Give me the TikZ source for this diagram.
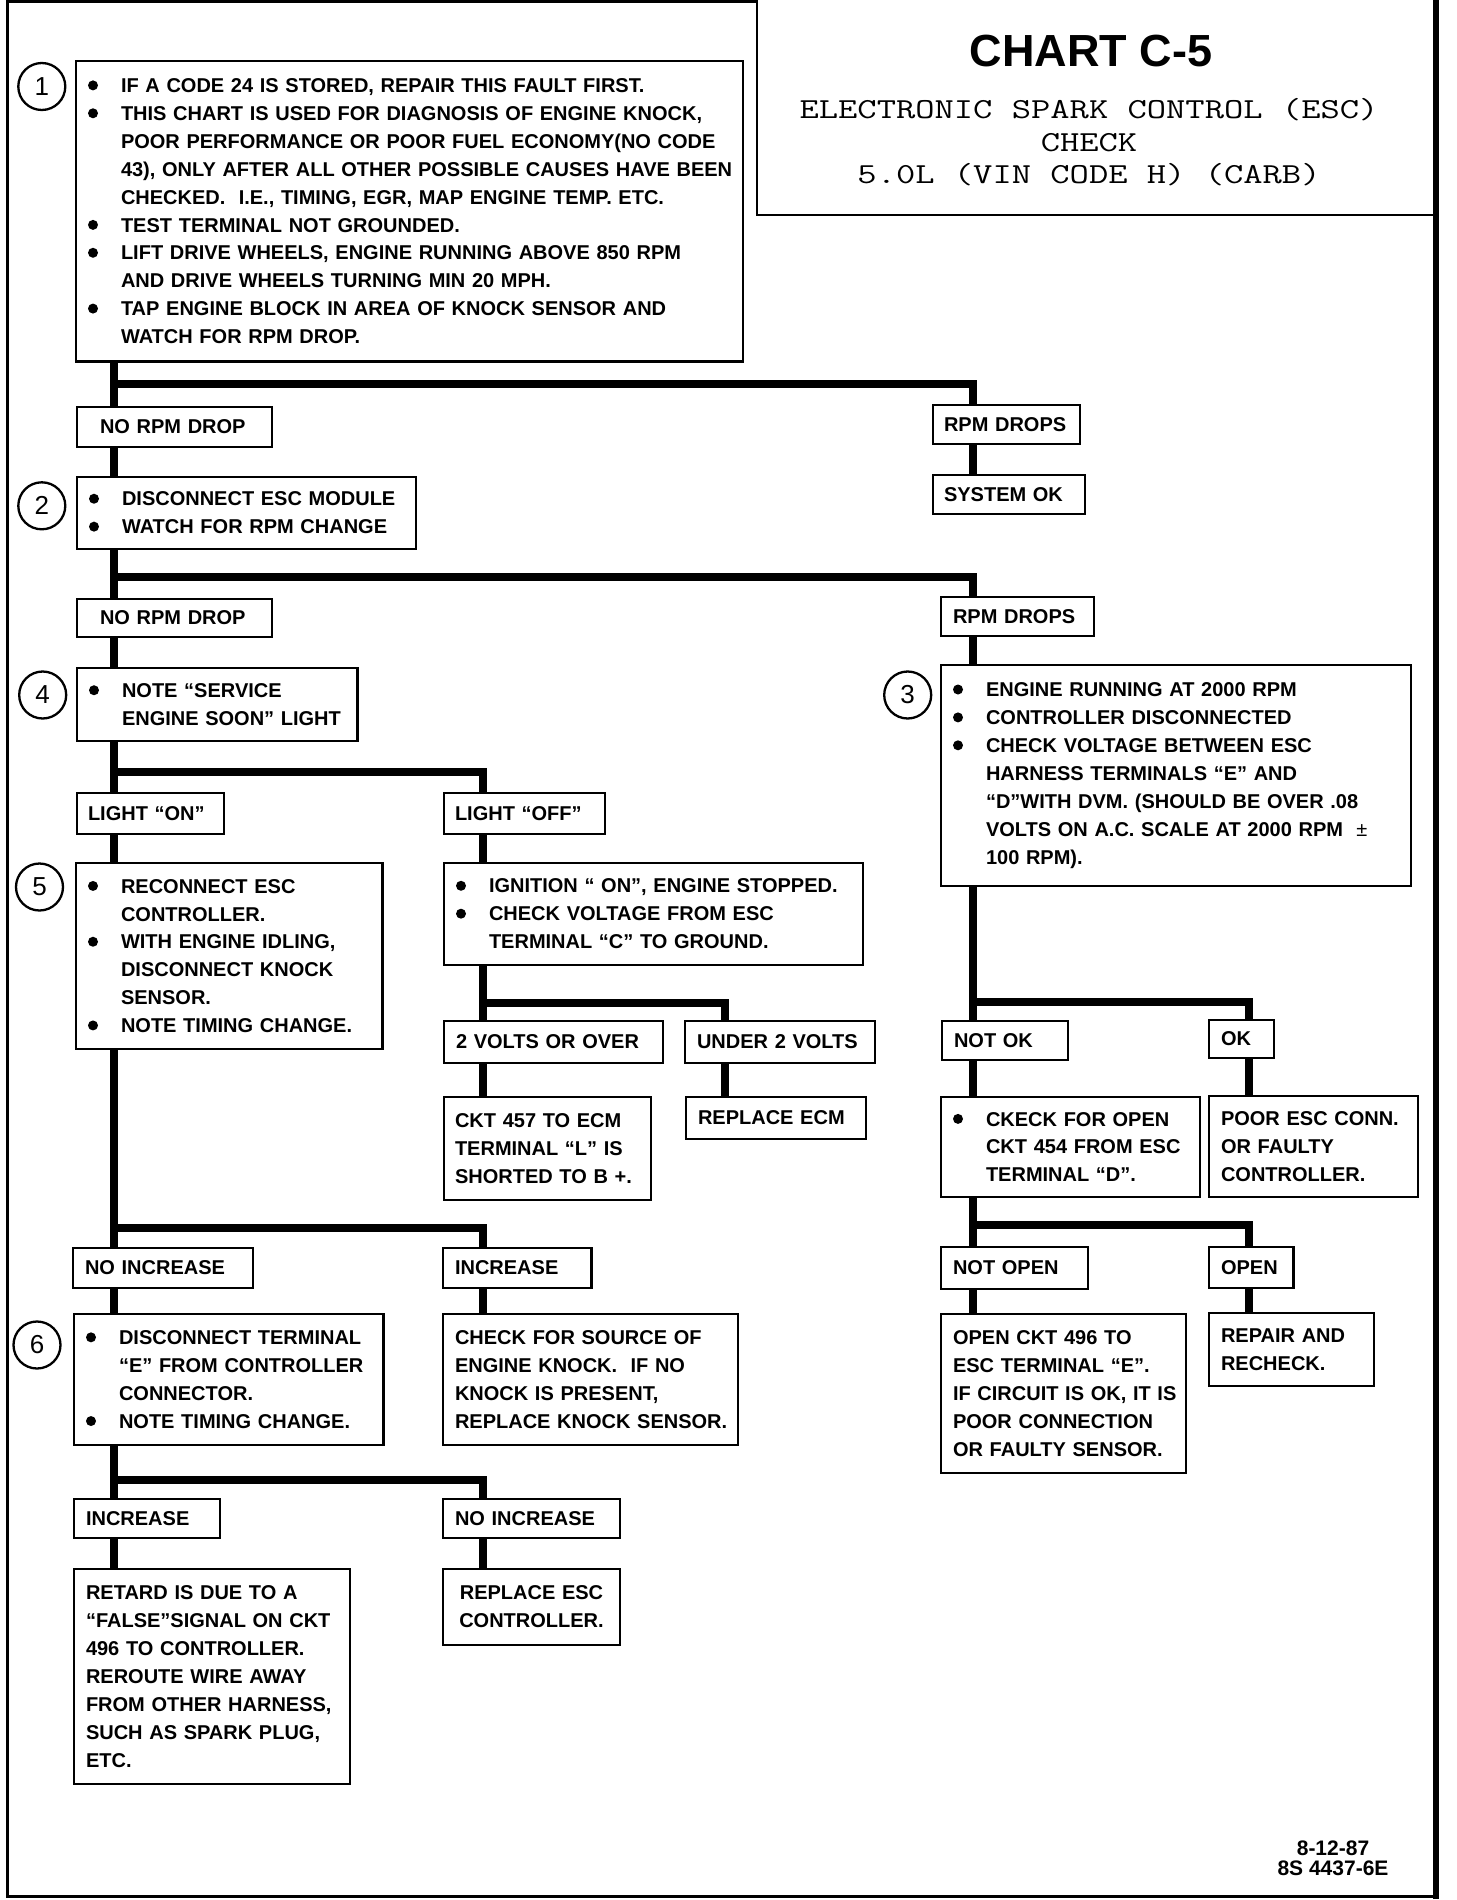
\documentclass[tikz,border=0pt]{standalone}
\usepackage{fontspec}
\usepackage{graphicx}
\setmainfont{Liberation Sans}
\frenchspacing
\newlength\bw \setlength\bw{33pt}
\newcommand\bdot{\tikz[baseline=0pt]\fill[black] (5pt,7.2pt) circle[radius=5pt];}
\newcommand\bul[1]{\makebox[\bw][l]{\bdot}\mbox{#1}}
\newcommand\cont[1]{\hspace*{\bw}\mbox{#1}}
\newcommand\pln[1]{\mbox{#1}}
\tikzset{
  boxst/.style={draw, line width=2.5pt, fill=white, inner ysep=0pt, outer sep=0pt, align=left,
    font=\bfseries\fontsize{20}{27.9}\selectfont},
  conn/.style={line width=8pt, line join=miter},
  circ/.style={circle, draw, line width=2.3pt, minimum size=47pt, inner sep=0pt,
    font=\mdseries\fontsize{26}{26}\selectfont},
  subst/.style={anchor=base, font=\ttfamily\fontsize{29}{29}\selectfont},
}
\newcommand\mybox[8][]{%
  \pgfmathsetmacro\bxw{#5-#3}%
  \pgfmathsetmacro\bxh{#6-#4}%
  \pgfmathsetmacro\bxt{#5-#3-2*#7}%
  \node[boxst, anchor=north west, minimum width=\bxw pt, minimum height=\bxh pt,
        inner xsep=#7pt, text width=\bxt pt, #1] (#2) at (#3,#4) {#8};}
\begin{document}
\begin{tikzpicture}[x=1pt, y=-1pt]
\useasboundingbox (0,0) rectangle (1456,1900);
% frame
\draw[line width=3pt] (7.5,0) -- (7.5,1896) -- (1436,1896);
\draw[line width=6pt] (1436,0) -- (1436,1899);
\draw[line width=3pt] (7.5,1.5) -- (757,1.5);
\draw[line width=2.5pt] (757,0) -- (757,215) -- (1436,215);
% title
\node[anchor=base, font=\bfseries\fontsize{45}{45}\selectfont] (title) at (1091,67) {CHART C-5};
\node[subst] (sub1) at (1089,118.5) {\scalebox{1.292}[1]{ELECTRONIC SPARK CONTROL (ESC)}};
\node[subst] (sub2) at (1089,151) {\scalebox{1.292}[1]{CHECK}};
\node[subst] (sub3) at (1089,183.5) {\scalebox{1.292}[1]{5.0L (VIN CODE H) (CARB)}};
% footer
\node[anchor=base, font=\bfseries\fontsize{21}{21}\selectfont] (date) at (1333,1855) {8-12-87};
\node[anchor=base, font=\bfseries\fontsize{21}{21}\selectfont] (code) at (1333,1875) {8S 4437-6E};
% trunks
\coordinate (tL) at (114,0);
\coordinate (tM) at (483,0);
\coordinate (tU) at (724.5,0);
\coordinate (tR) at (972.5,0);
\coordinate (tRR) at (1248.5,0);
% boxes
\mybox{b1}{76}{61}{743}{361.5}{12}{%
\bul{IF A CODE 24 IS STORED, REPAIR THIS FAULT FIRST.}\\
\bul{THIS CHART IS USED FOR DIAGNOSIS OF ENGINE KNOCK,}\\
\cont{POOR PERFORMANCE OR POOR FUEL ECONOMY(NO CODE}\\
\cont{43), ONLY AFTER ALL OTHER POSSIBLE CAUSES HAVE BEEN}\\
\cont{CHECKED.\ \ I.E., TIMING, EGR, MAP ENGINE TEMP. ETC.}\\
\bul{TEST TERMINAL NOT GROUNDED.}\\
\bul{LIFT DRIVE WHEELS, ENGINE RUNNING ABOVE 850 RPM}\\
\cont{AND DRIVE WHEELS TURNING MIN 20 MPH.}\\
\bul{TAP ENGINE BLOCK IN AREA OF KNOCK SENSOR AND}\\
\cont{WATCH FOR RPM DROP.}}
\mybox{nrdA}{77}{407}{272}{447}{23}{\pln{NO RPM DROP}}
\mybox{rdA}{933}{405}{1080}{444}{11}{\pln{RPM DROPS}}
\mybox{sok}{933}{475}{1085}{514}{11}{\pln{SYSTEM OK}}
\mybox{b2}{77}{477}{416}{549}{12}{\bul{DISCONNECT ESC MODULE}\\\bul{WATCH FOR RPM CHANGE}}
\mybox{nrdB}{77}{599}{272}{637}{23}{\pln{NO RPM DROP}}
\mybox{rdB}{941}{597}{1094}{636}{12}{\pln{RPM DROPS}}
\mybox{b4}{77}{668}{357.5}{741}{12}{\bul{NOTE “SERVICE}\\\cont{ENGINE SOON” LIGHT}}
\mybox{b3}{941}{665}{1411}{886}{12}{%
\bul{ENGINE RUNNING AT 2000 RPM}\\
\bul{CONTROLLER DISCONNECTED}\\
\bul{CHECK VOLTAGE BETWEEN ESC}\\
\cont{HARNESS TERMINALS “E” AND}\\
\cont{“D”WITH DVM. (SHOULD BE OVER .08}\\
\cont{VOLTS ON A.C. SCALE AT 2000 RPM\ \ {\mdseries ±}}\\
\cont{100 RPM).}}
\mybox{lon}{77}{793}{224}{834}{11}{\pln{LIGHT “ON”}}
\mybox{loff}{444}{793}{605}{834}{11}{\pln{LIGHT “OFF”}}
\mybox{b5}{76}{863}{382.5}{1049}{12}{%
\bul{RECONNECT ESC}\\
\cont{CONTROLLER.}\\
\bul{WITH ENGINE IDLING,}\\
\cont{DISCONNECT KNOCK}\\
\cont{SENSOR.}\\
\bul{NOTE TIMING CHANGE.}}
\mybox{ign}{444}{863}{863}{965}{12}{%
\bul{IGNITION “ ON”, ENGINE STOPPED.}\\
\bul{CHECK VOLTAGE FROM ESC}\\
\cont{TERMINAL “C” TO GROUND.}}
\mybox{vtwo}{444}{1021}{663}{1063}{12}{\pln{2 VOLTS OR OVER}}
\mybox{utwo}{685}{1021}{875}{1063}{12}{\pln{UNDER 2 VOLTS}}
\mybox{ckt}{444}{1097}{651}{1200}{11}{\pln{CKT 457 TO ECM}\\\pln{TERMINAL “L” IS}\\\pln{SHORTED TO B +.}}
\mybox{recm}{686}{1097}{866}{1139}{12}{\pln{REPLACE ECM}}
\mybox{nok}{942}{1021}{1068}{1060}{12}{\pln{NOT OK}}
\mybox{ok}{1209}{1020}{1274}{1058}{12}{\pln{OK}}
\mybox{ckeck}{941}{1097}{1200}{1197}{12}{%
\bul{CKECK FOR OPEN}\\
\cont{CKT 454 FROM ESC}\\
\cont{TERMINAL “D”.}}
\mybox{poor}{1209}{1096}{1418}{1197}{12}{\pln{POOR ESC CONN.}\\\pln{OR FAULTY}\\\pln{CONTROLLER.}}
\mybox{nopen}{941}{1247}{1088}{1289}{12}{\pln{NOT OPEN}}
\mybox{open}{1209}{1247}{1293.5}{1288}{12}{\pln{OPEN}}
\mybox{openckt}{941}{1314}{1186}{1473}{12}{%
\pln{OPEN CKT 496 TO}\\
\pln{ESC TERMINAL “E”.}\\
\pln{IF CIRCUIT IS OK, IT IS}\\
\pln{POOR CONNECTION}\\
\pln{OR FAULTY SENSOR.}}
\mybox{repair}{1209}{1313}{1374}{1386}{12}{\pln{REPAIR AND}\\\pln{RECHECK.}}
\mybox{ninc}{73}{1248}{253}{1288}{12}{\pln{NO INCREASE}}
\mybox{inc}{443}{1248}{591.5}{1288}{12}{\pln{INCREASE}}
\mybox{b6}{74}{1314}{383.5}{1445}{12}{%
\bul{DISCONNECT TERMINAL}\\
\cont{“E” FROM CONTROLLER}\\
\cont{CONNECTOR.}\\
\bul{NOTE TIMING CHANGE.}}
\mybox{source}{443}{1314}{738}{1445}{12}{%
\pln{CHECK FOR SOURCE OF}\\
\pln{ENGINE KNOCK.\ \ IF NO}\\
\pln{KNOCK IS PRESENT,}\\
\pln{REPLACE KNOCK SENSOR.}}
\mybox{inctwo}{74}{1499}{220}{1538}{12}{\pln{INCREASE}}
\mybox{ninctwo}{443}{1499}{620}{1538}{12}{\pln{NO INCREASE}}
\mybox{retard}{74}{1569}{350}{1784}{12}{%
\pln{RETARD IS DUE TO A}\\
\pln{“FALSE”SIGNAL ON CKT}\\
\pln{496 TO CONTROLLER.}\\
\pln{REROUTE WIRE AWAY}\\
\pln{FROM OTHER HARNESS,}\\
\pln{SUCH AS SPARK PLUG,}\\
\pln{ETC.}}
\mybox[align=center]{resc}{443}{1569}{620}{1645}{12}{\pln{REPLACE ESC}\\\pln{CONTROLLER.}}
% circled numbers
\node[circ] (c1) at (41.8,86.5) {1};
\node[circ] (c2) at (41.8,505.8) {2};
\node[circ] (c4) at (42.7,695) {4};
\node[circ] (c3) at (907.7,695) {3};
\node[circ] (c5) at (39.5,887) {5};
\node[circ] (c6) at (37,1345) {6};
% junction points
\coordinate (j1) at (114,384);
\coordinate (j2) at (114,576.5);
\coordinate (j4) at (114,771.5);
\coordinate (j5) at (483,1003);
\coordinate (j3) at (972.5,1001.5);
\coordinate (j6) at (972.5,1225);
\coordinate (j7) at (114,1228);
\coordinate (j8) at (114,1479.5);
% left trunk
\draw[conn] (b1.south -| tL) -- (nrdA.north -| tL);
\draw[conn] (nrdA.south -| tL) -- (b2.north -| tL);
\draw[conn] (b2.south -| tL) -- (nrdB.north -| tL);
\draw[conn] (nrdB.south -| tL) -- (b4.north -| tL);
\draw[conn] (b4.south -| tL) -- (lon.north -| tL);
\draw[conn] (lon.south -| tL) -- (b5.north -| tL);
\draw[conn] (b5.south -| tL) -- (ninc.north -| tL);
\draw[conn] (ninc.south -| tL) -- (b6.north -| tL);
\draw[conn] (b6.south -| tL) -- (inctwo.north -| tL);
\draw[conn] (inctwo.south -| tL) -- (retard.north -| tL);
% branches
\draw[conn] (j1) -| (rdA.north -| tR);
\draw[conn] (j2) -| (rdB.north -| tR);
\draw[conn] (j4) -| (loff.north -| tM);
\draw[conn] (j5) -| (utwo.north -| tU);
\draw[conn] (j3) -| (ok.north -| tRR);
\draw[conn] (j6) -| (open.north -| tRR);
\draw[conn] (j7) -| (inc.north -| tM);
\draw[conn] (j8) -| (ninctwo.north -| tM);
% right trunk
\draw[conn] (rdA.south -| tR) -- (sok.north -| tR);
\draw[conn] (rdB.south -| tR) -- (b3.north -| tR);
\draw[conn] (b3.south -| tR) -- (nok.north -| tR);
\draw[conn] (nok.south -| tR) -- (ckeck.north -| tR);
\draw[conn] (ckeck.south -| tR) -- (nopen.north -| tR);
\draw[conn] (nopen.south -| tR) -- (openckt.north -| tR);
\draw[conn] (ok.south -| tRR) -- (poor.north -| tRR);
\draw[conn] (open.south -| tRR) -- (repair.north -| tRR);
% middle trunk
\draw[conn] (loff.south -| tM) -- (ign.north -| tM);
\draw[conn] (ign.south -| tM) -- (vtwo.north -| tM);
\draw[conn] (vtwo.south -| tM) -- (ckt.north -| tM);
\draw[conn] (utwo.south -| tU) -- (recm.north -| tU);
\draw[conn] (inc.south -| tM) -- (source.north -| tM);
\draw[conn] (ninctwo.south -| tM) -- (resc.north -| tM);
\end{tikzpicture}
\end{document}
